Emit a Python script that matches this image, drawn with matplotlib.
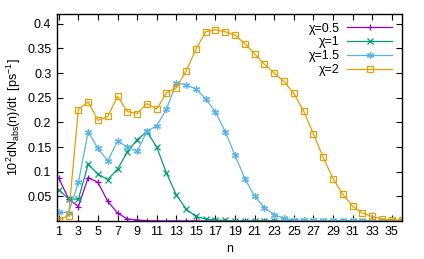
import matplotlib

matplotlib.use("Agg")
import matplotlib.pyplot as plt

plt.rcParams["font.family"] = ["Liberation Sans", "DejaVu Sans"]
plt.rcParams["mathtext.fontset"] = "custom"
plt.rcParams["mathtext.rm"] = "Liberation Sans"
plt.rcParams["mathtext.it"] = "Liberation Sans:italic"

n = list(range(1, 37))

chi05 = [0.087, 0.045, 0.029, 0.088, 0.078, 0.040, 0.016, 0.004, 0.002, 0.0005] + [0.0] * 26
chi1 = [0.063, 0.045, 0.044, 0.115, 0.095, 0.084, 0.105, 0.140, 0.165, 0.181,
        0.150, 0.097, 0.053, 0.024, 0.009, 0.004, 0.002, 0.001] + [0.0] * 18
chi15 = [0.018, 0.017, 0.078, 0.181, 0.147, 0.122, 0.162, 0.150, 0.141, 0.182,
         0.193, 0.227, 0.280, 0.276, 0.268, 0.248, 0.221, 0.181, 0.133, 0.086,
         0.050, 0.027, 0.013, 0.005, 0.002, 0.001] + [0.0] * 10
chi2 = [0.002, 0.011, 0.226, 0.242, 0.204, 0.212, 0.253, 0.222, 0.218, 0.238,
        0.227, 0.260, 0.270, 0.304, 0.348, 0.384, 0.388, 0.384, 0.377, 0.360,
        0.339, 0.318, 0.300, 0.283, 0.259, 0.223, 0.177, 0.129, 0.086, 0.054,
        0.030, 0.016, 0.009, 0.004, 0.002, 0.002]

series = [
    ("χ=0.5", chi05, "#9400D3", "+", {}),
    ("χ=1", chi1, "#009E73", "x", {}),
    ("χ=1.5", chi15, "#56B4E9", (6, 2, 0), {}),
    ("χ=2", chi2, "#E69F00", "s", {"markerfacecolor": "none"}),
]

fig = plt.figure(figsize=(4.24, 2.59), dpi=100)
ax = fig.add_axes([0.134, 0.147, 0.813, 0.799])

for label, vals, color, marker, extra in series:
    ax.plot(n, vals, color=color, marker=marker, markersize=5, linewidth=0.9,
            markeredgewidth=0.9, label=label, **extra)

ax.set_xlim(0.8, 36)
ax.set_ylim(0, 0.42)
ax.set_xticks(range(1, 36, 2))
ax.set_yticks([0.05, 0.1, 0.15, 0.2, 0.25, 0.3, 0.35, 0.4])
ax.set_yticklabels(["0.05", "0.1", "0.15", "0.2", "0.25", "0.3", "0.35", "0.4"])
ax.tick_params(direction="in", top=True, right=True, length=4, width=0.8,
               labelsize=9, pad=4)
for spine in ax.spines.values():
    spine.set_linewidth(1.0)

ax.set_xlabel("n", fontsize=9, labelpad=3)
ax.set_ylabel(r"10$^{\mathrm{2}}$dN$_{\mathrm{abs}}$(n)/dt  [ps$^{\mathrm{-1}}$]", fontsize=9, labelpad=3)

leg = ax.legend(loc="upper right", bbox_to_anchor=(0.995, 0.995), frameon=False,
                markerfirst=False, fontsize=9, handlelength=3.6,
                labelspacing=0.15, handletextpad=0.6, borderaxespad=0.2)
# right-align the text column, gnuplot style
for col in leg._legend_box.get_children()[1].get_children():
    col.align = "right"

fig.savefig("out.png", dpi=100)
plt.close(fig)
